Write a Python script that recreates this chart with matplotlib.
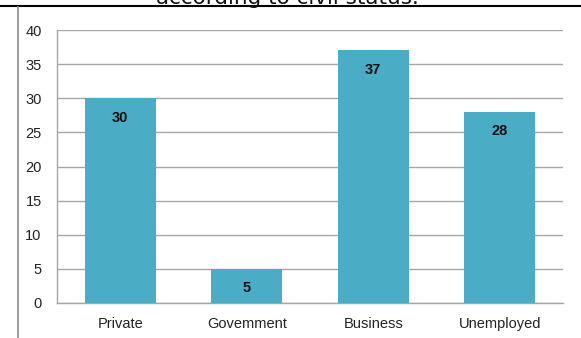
import matplotlib
matplotlib.use("Agg")
import matplotlib.pyplot as plt
from matplotlib.lines import Line2D

categories = ["Private", "Govemment", "Business", "Unemployed"]
counts = [30, 5, 37, 28]
y_ticks = [0, 5, 10, 15, 20, 25, 30, 35, 40]

bar_color = "#4bacc6"
grid_color = "#a6a6a6"
font = ["Liberation Sans Narrow", "Liberation Sans", "DejaVu Sans"]

fig = plt.figure(figsize=(5.81, 3.38), dpi=100)
fig.patch.set_facecolor("white")

# title, mostly cut off above the frame
fig.text(0.495, 1 - 4.5 / 338, "according to civil status.", ha="center", va="baseline",
         fontsize=15.5, color="#111111", family=["DejaVu Sans"])

# frame lines around the chart block
fig.add_artist(Line2D([0, 1], [1 - 6 / 338, 1 - 6 / 338], color="black", lw=1.5,
                      transform=fig.transFigure))
fig.add_artist(Line2D([18 / 581, 18 / 581], [0, 1 - 7 / 338], color="#8a8a8a", lw=1.2,
                      transform=fig.transFigure))

ax = fig.add_axes([57 / 581, 1 - 303 / 338, (563 - 57) / 581, (303 - 30) / 338])
x = range(len(categories))
bars = ax.bar(x, counts, width=0.565, color=bar_color, zorder=3)

ax.set_xlim(-0.5, len(categories) - 0.5)
ax.set_ylim(0, 40)
ax.set_yticks(y_ticks)
ax.set_xticks(list(x))
ax.set_xticklabels(categories)
ax.yaxis.grid(True, color=grid_color, lw=1, zorder=0)
ax.set_axisbelow(True)

for side in ["top", "right"]:
    ax.spines[side].set_visible(False)
for side in ["left", "bottom"]:
    ax.spines[side].set_color(grid_color)
    ax.spines[side].set_linewidth(1)

ax.tick_params(axis="y", length=0, pad=11, labelsize=10.5, labelcolor="#222222")
ax.tick_params(axis="x", length=0, pad=10, labelsize=10.5, labelcolor="#222222")
for lbl in ax.get_xticklabels() + ax.get_yticklabels():
    lbl.set_family(font)

# value labels inside the top of each bar
for rect, v in zip(bars, counts):
    ax.annotate(str(v), (rect.get_x() + rect.get_width() / 2, v), xytext=(0, -14),
                textcoords="offset points", ha="center", va="center",
                fontsize=10.5, fontweight="bold", color="#111111", family=font)

fig.savefig("out.png", dpi=100)
